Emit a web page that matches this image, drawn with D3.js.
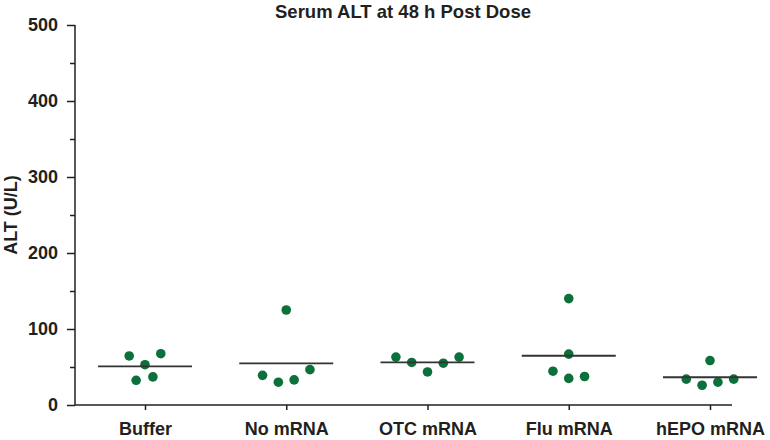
<!DOCTYPE html>
<html>
<head>
<meta charset="utf-8">
<script src="https://cdn.jsdelivr.net/npm/d3@7"></script>
<style>
  html, body { margin: 0; padding: 0; background: #fff; }
  svg { display: block; }
  text { font-family: "Liberation Sans", Arial, Helvetica, sans-serif; font-weight: bold; fill: #231f20; }
</style>
</head>
<body>
<svg id="chart" width="770" height="440"></svg>
<script>
const title = "Serum ALT at 48 h Post Dose";
const yLabel = "ALT (U/L)";
const categories = ["Buffer", "No mRNA", "OTC mRNA", "Flu mRNA", "hEPO mRNA"];
const yTicks = [0, 100, 200, 300, 400, 500];
const yMinorTicks = [50, 150, 250, 350, 450];

// ALT values (U/L) per group
const bufferValues = [64.5, 67.5, 53, 32.5, 37];
const noMrnaValues = [125, 39, 30, 33, 46.5];
const otcValues = [63, 56, 43.5, 55, 63];
const fluValues = [140, 67, 44.5, 35, 37.5];
const hepoValues = [58.5, 34, 26, 30, 34];
// horizontal swarm slot of each point (in dot-spacing units)
const bufferSlots = [-1, 1, 0, -0.56, 0.5];
const noMrnaSlots = [0, -1.5, -0.5, 0.5, 1.5];
const otcSlots = [-2, -1, 0, 1, 2];
const fluSlots = [0, 0, -1, 0, 1];
const hepoSlots = [0, -1.5, -0.5, 0.5, 1.5];

const groupValues = [bufferValues, noMrnaValues, otcValues, fluValues, hepoValues];
const groupSlots = [bufferSlots, noMrnaSlots, otcSlots, fluSlots, hepoSlots];

const svg = d3.select("#chart");
const mLeft = 75, mTop = 25, mBottom = 405;
const x = d3.scalePoint().domain(categories).range([145, 710]);
const y = d3.scaleLinear().domain([0, 500]).range([mBottom, mTop]);
const slotWidth = 15.8;
const dotR = 4.8;
const meanHalf = 47;
const axisColor = "#231f20";

// title
svg.append("text").attr("x", 403).attr("y", 17.5).attr("text-anchor", "middle")
  .style("font-size", "18.5px").text(title);

// y axis
const yAxis = svg.append("g").attr("transform", `translate(${mLeft},0)`)
  .call(d3.axisLeft(y).tickValues(yTicks).tickSize(8).tickPadding(9).tickFormat(d3.format("d")));
yAxis.select(".domain").remove();
yAxis.selectAll("line").attr("stroke", axisColor).attr("stroke-width", 1.5);
yAxis.selectAll("text").style("font-size", "18px").attr("fill", axisColor);
const yMinor = svg.append("g").attr("transform", `translate(${mLeft},0)`)
  .call(d3.axisLeft(y).tickValues(yMinorTicks).tickSize(5).tickFormat(""));
yMinor.select(".domain").remove();
yMinor.selectAll("line").attr("stroke", axisColor).attr("stroke-width", 1.5);
svg.append("line").attr("x1", mLeft).attr("x2", mLeft).attr("y1", y(500)).attr("y2", y(0))
  .attr("stroke", axisColor).attr("stroke-width", 1.5);

// x axis
const xAxis = svg.append("g").attr("transform", `translate(0,${mBottom})`)
  .call(d3.axisBottom(x).tickSize(5).tickPadding(12));
xAxis.select(".domain").remove();
xAxis.selectAll("line").attr("stroke", axisColor).attr("stroke-width", 1.5);
xAxis.selectAll("text").style("font-size", "18px").attr("fill", axisColor);
svg.append("line").attr("x1", mLeft).attr("x2", 732).attr("y1", mBottom).attr("y2", mBottom)
  .attr("stroke", axisColor).attr("stroke-width", 1.5);

// y label
svg.append("text").attr("transform", `translate(17,215) rotate(-90)`)
  .attr("text-anchor", "middle").style("font-size", "18px").text(yLabel);

// groups
categories.forEach((c, i) => {
  const vals = groupValues[i];
  const slots = groupSlots[i];
  const g = svg.append("g");
  g.selectAll("circle").data(vals).join("circle")
    .attr("cx", (d, j) => x(c) + slots[j] * slotWidth)
    .attr("cy", d => y(d))
    .attr("r", dotR)
    .attr("fill", "#0b703a");
  const m = d3.mean(vals);
  g.append("line").attr("x1", x(c) - meanHalf).attr("x2", x(c) + meanHalf)
    .attr("y1", y(m)).attr("y2", y(m))
    .attr("stroke", "#333").attr("stroke-width", 1.8);
});
</script>
</body>
</html>
